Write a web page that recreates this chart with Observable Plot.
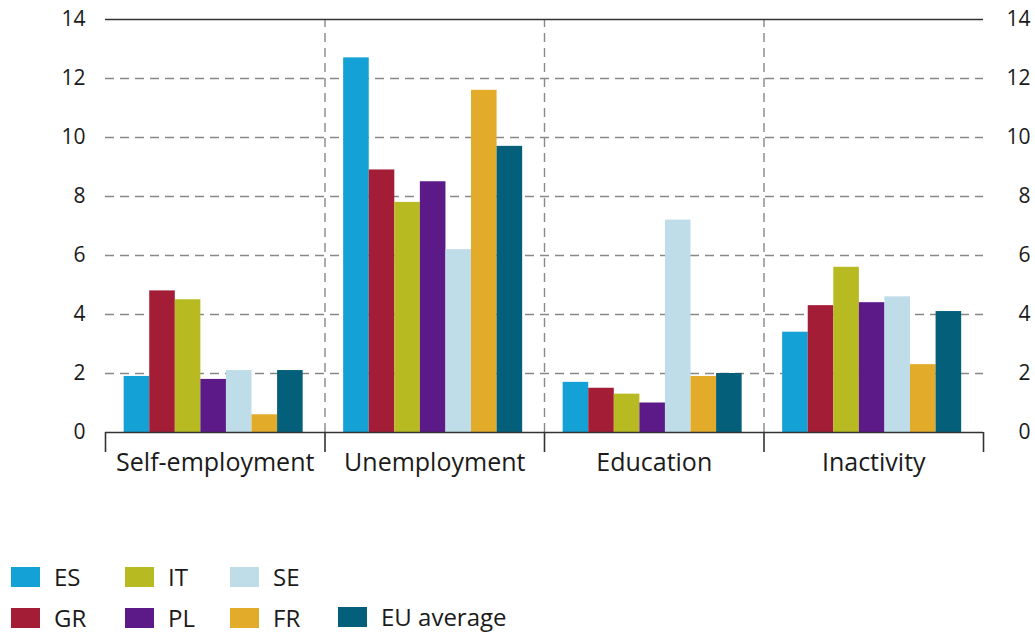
<!DOCTYPE html>
<html>
<head>
<meta charset="utf-8">
<script src="https://cdn.jsdelivr.net/npm/d3@7"></script>
<script src="https://cdn.jsdelivr.net/npm/@observablehq/plot@0.6"></script>
<style>
  body { margin: 0; background: #fff; font-family: "Open Sans", sans-serif; color: #1a1a1a; }
  #wrap { position: relative; width: 1035px; height: 633px; overflow: hidden; }
  .item { position: absolute; display: flex; align-items: center; font-size: 24px; line-height: 24px; height: 24px; }
  .sw { width: 29px; height: 20px; margin-right: 14px; }
</style>
</head>
<body>
<div id="wrap"><div id="chart"></div><div id="legend"></div></div>
<script>
const categories = ["Self-employment", "Unemployment", "Education", "Inactivity"];
const countries = ["ES", "GR", "IT", "PL", "SE", "FR", "EU average"];
const ES = [1.9, 12.7, 1.7, 3.4];
const GR = [4.8, 8.9, 1.5, 4.3];
const IT = [4.5, 7.8, 1.3, 5.6];
const PL = [1.8, 8.5, 1.0, 4.4];
const SE = [2.1, 6.2, 7.2, 4.6];
const FR = [0.6, 11.6, 1.9, 2.3];
const EU = [2.1, 9.7, 2.0, 4.1];
const colors = ["#14a1d6", "#a41d36", "#b7bb21", "#5b1a88", "#bfdde8", "#e2ab2a", "#045f7b"];
const yTicks = [0, 2, 4, 6, 8, 10, 12, 14];
const gridTicks = [2, 4, 6, 8, 10, 12];

const series = [ES, GR, IT, PL, SE, FR, EU];
const rows = [];
categories.forEach((c, ci) => {
  series.forEach((s, ki) => rows.push({category: c, ci, country: countries[ki], ki, value: s[ci]}));
});

const pad = 0.085, w = 0.1165;

const chart = Plot.plot({
  width: 1035,
  height: 500,
  marginLeft: 105,
  marginRight: 52,
  marginTop: 19,
  marginBottom: 68,
  x: {domain: [0, 4], axis: null},
  y: {domain: [0, 14], axis: null},
  color: {domain: countries, range: colors},
  style: {fontFamily: "'Open Sans', sans-serif", color: "#1a1a1a", background: "#fff"},
  marks: [
    Plot.ruleY(gridTicks, {stroke: "#888", strokeWidth: 1.4, strokeDasharray: "9,6"}),
    Plot.ruleX([1, 2, 3], {y1: 0, y2: 14, stroke: "#888", strokeWidth: 1.4, strokeDasharray: "9,6"}),
    Plot.rectY(rows, {
      x1: d => d.ci + pad + d.ki * w,
      x2: d => d.ci + pad + (d.ki + 1) * w,
      y1: 0,
      y2: "value",
      fill: "country"
    }),
    Plot.ruleY([0, 14], {stroke: "#333", strokeWidth: 1.6}),
    Plot.axisX([0, 1, 2, 3, 4], {tickSize: 20, tickFormat: () => "", stroke: "#333", strokeWidth: 1.6, label: null}),
    Plot.axisX([0.5, 1.5, 2.5, 3.5], {tickSize: 0, tickPadding: 21, fontSize: 25, fontWeight: 500, tickFormat: v => categories[Math.floor(v)], label: null}),
    Plot.axisY(yTicks, {anchor: "left", tickSize: 0, tickPadding: 20, fontSize: 21, fontWeight: 500, label: null}),
    Plot.axisY(yTicks, {anchor: "right", tickSize: 0, tickPadding: 47, textAnchor: "end", fontSize: 21, fontWeight: 500, label: null})
  ]
});
document.getElementById("chart").appendChild(chart);

// Legend (HTML, below the SVG)
const legendPos = [
  {k: 0, left: 11, top: 565}, {k: 2, left: 125, top: 565}, {k: 4, left: 230, top: 565},
  {k: 1, left: 11, top: 606}, {k: 3, left: 125, top: 606}, {k: 5, left: 230, top: 606},
  {k: 6, left: 338, top: 605}
];
const legend = document.getElementById("legend");
legendPos.forEach(p => {
  const it = document.createElement("div");
  it.className = "item";
  it.style.left = p.left + "px";
  it.style.top = p.top + "px";
  const sw = document.createElement("div");
  sw.className = "sw";
  sw.style.background = colors[p.k];
  const tx = document.createElement("span");
  tx.textContent = countries[p.k];
  it.appendChild(sw);
  it.appendChild(tx);
  legend.appendChild(it);
});
</script>
</body>
</html>
